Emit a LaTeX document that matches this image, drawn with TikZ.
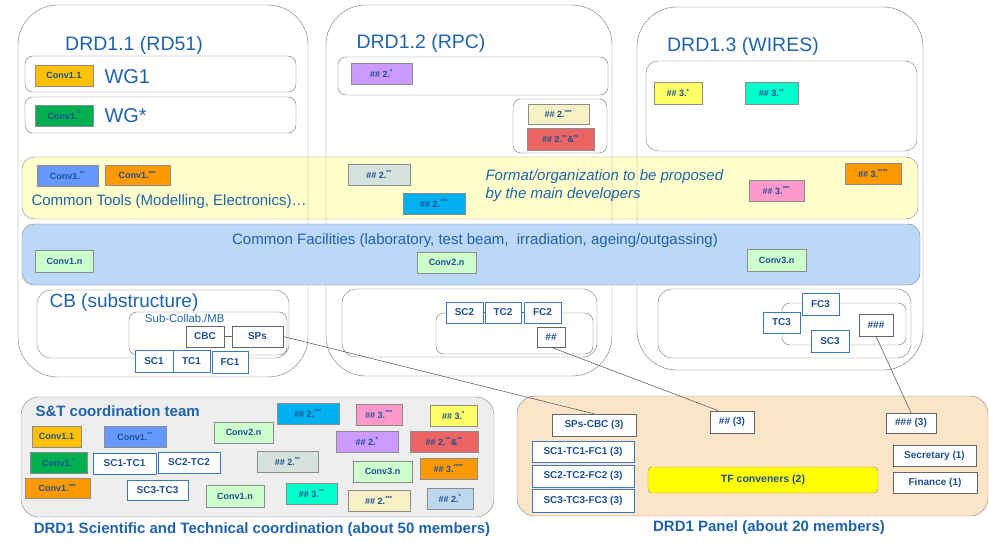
\documentclass[tikz,border=0pt]{standalone}
\usepackage{fontspec}
\setmainfont{Liberation Sans}
\usetikzlibrary{positioning}

\definecolor{drdblue}{RGB}{31,100,170}
\definecolor{chipblue}{RGB}{30,80,145}
\definecolor{unitblue}{RGB}{60,120,190}
\definecolor{bandyellow}{RGB}{255,255,204}
\definecolor{bandblue}{RGB}{187,216,247}
\definecolor{teamgray}{RGB}{238,238,238}
\definecolor{panelpeach}{RGB}{251,229,200}
\definecolor{cgold}{RGB}{255,192,0}
\definecolor{cgreen}{RGB}{0,176,80}
\definecolor{cblue}{RGB}{102,153,255}
\definecolor{corange}{RGB}{255,153,0}
\definecolor{cpurple}{RGB}{204,153,255}
\definecolor{ccream}{RGB}{247,240,196}
\definecolor{cred}{RGB}{235,100,100}
\definecolor{cyellow}{RGB}{255,255,102}
\definecolor{caqua}{RGB}{0,255,204}
\definecolor{csage}{RGB}{214,227,220}
\definecolor{ccyan}{RGB}{0,176,240}
\definecolor{cpink}{RGB}{255,153,204}
\definecolor{cmint}{RGB}{204,255,204}
\definecolor{csky}{RGB}{189,215,238}
\definecolor{tfyellow}{RGB}{255,255,0}

\begin{document}
\begin{tikzpicture}[x=1pt, y=-1pt,
    wh/.style 2 args={minimum width=#1pt, minimum height=#2pt},
    chip/.style={draw=black!45, inner sep=0pt, text=chipblue, font=\bfseries\fontsize{9}{10}\selectfont},
    unit/.style={draw=unitblue, fill=white, inner sep=0pt, text=chipblue, font=\bfseries\fontsize{10}{11}\selectfont},
    seat/.style={draw=black!60, fill=white, inner sep=0pt, text=chipblue, font=\bfseries\fontsize{10}{11}\selectfont},
    frame/.style={draw=black!55, rounded corners=8pt},
    heading/.style={text=drdblue, font=\fontsize{19.5}{22}\selectfont},
    bandtext/.style={text=drdblue, font=\fontsize{15}{18}\selectfont},
    caption/.style={text=drdblue, font=\bfseries\fontsize{15}{18}\selectfont},
    link/.style={draw=black!70, line width=0.5pt}]
    \useasboundingbox (0,0) rectangle (989,543);

    % Common tools band (under the columns)
    \draw[draw=black!50, fill=bandyellow, rounded corners=12pt] (22,157) rectangle (918,219);

    % The three columns
    \draw[draw=black!55, rounded corners=40pt] (18,5) rectangle (308,377);
    \draw[draw=black!55, rounded corners=40pt] (326,5) rectangle (612,376);
    \draw[draw=black!55, rounded corners=40pt] (637,7) rectangle (923,370);
    \node[heading] (t1) at (134,45) {DRD1.1 (RD51)};
    \node[heading] (t2) at (421,43) {DRD1.2 (RPC)};
    \node[heading] (t3) at (743,46) {DRD1.3 (WIRES)};

    % Common facilities band
    \draw[draw=black!50, fill=bandblue, rounded corners=12pt] (22,224) rectangle (920,285);

    % DRD1.1 working groups
    \draw[frame] (25,56) rectangle (296,92);
    \draw[frame] (25,97) rectangle (296,133);
    \node[chip, fill=cgold, wh={58}{21}] (c11) at (64,75.5) {Conv1.1};
    \node[chip, fill=cgreen, wh={58}{21}] (c1s) at (64,115.5) {Conv1.\textsuperscript{*}};
    \node[heading, anchor=west, font=\fontsize{20}{22}\selectfont] (wg1) at (101,77) {WG1};
    \node[heading, anchor=west, font=\fontsize{20}{22}\selectfont] (wgs) at (101,116) {WG*};

    % DRD1.2 groups
    \draw[frame] (338,57) rectangle (608,95);
    \draw[frame] (513,99) rectangle (607,153);
    \node[chip, fill=cpurple, wh={61}{21}] (r21) at (381.5,73.5) {\#\# 2.\textsuperscript{*}};
    \node[chip, fill=ccream, wh={61}{20}] (r2c) at (558.5,114) {\#\# 2.\textsuperscript{***}};
    \node[chip, fill=cred, wh={67}{22}] (r2r) at (560.5,139) {\#\# 2.\textsuperscript{**}\&\textsuperscript{**}};

    % DRD1.3 groups
    \draw[frame, rounded corners=12pt] (646,61) rectangle (917,151);
    \node[chip, fill=cyellow, wh={48}{22}] (w31) at (678,93) {\#\# 3.\textsuperscript{*}};
    \node[chip, fill=caqua, wh={53}{22}] (w32) at (771.5,93) {\#\# 3.\textsuperscript{**}};

    % Common tools content
    \node[chip, fill=cblue, wh={61}{21}] (t12) at (67.5,175.5) {Conv1.\textsuperscript{**}};
    \node[chip, fill=corange, wh={65}{20}] (t13) at (137.5,175) {Conv1.\textsuperscript{***}};
    \node[chip, fill=csage, wh={62}{21}] (t22) at (379,174.5) {\#\# 2.\textsuperscript{**}};
    \node[chip, fill=ccyan, wh={62}{21}] (t23) at (434,203.5) {\#\# 2.\textsuperscript{***}};
    \node[chip, fill=cpink, wh={55}{21}] (t33) at (776.5,190.5) {\#\# 3.\textsuperscript{***}};
    \node[chip, fill=corange, wh={56}{21}] (t34) at (873,173.5) {\#\# 3.\textsuperscript{****}};
    \node[bandtext, anchor=west] (tools) at (28,202) {Common Tools (Modelling, Electronics)\dots};
    \node[bandtext, anchor=west, align=left, font=\itshape\fontsize{15}{18}\selectfont] (fmt) at (482,186)
        {Format/organization to be proposed\\by the main developers};

    % Common facilities content
    \node[bandtext] (fac) at (475,241) {Common Facilities (laboratory, test beam,\ \ irradiation, ageing/outgassing)};
    \node[chip, fill=cmint, wh={58}{22}] (f1) at (64.5,261) {Conv1.n};
    \node[chip, fill=cmint, wh={59}{21}] (f2) at (446.5,262.5) {Conv2.n};
    \node[chip, fill=cmint, wh={59}{22}] (f3) at (776.5,260) {Conv3.n};

    % CB of DRD1.1
    \draw[frame, rounded corners=14pt] (37,290) rectangle (289,358);
    \node[heading, anchor=west, font=\fontsize{19}{22}\selectfont] (cb) at (46,303) {CB (substructure)};
    \draw[frame] (129,312) rectangle (287,355);
    \node[text=drdblue, anchor=west, font=\fontsize{11.3}{12}\selectfont, inner sep=0pt] (sub) at (145,318) {Sub-Collab./MB};
    \node[seat, wh={38}{21}] (cbc) at (205,336.5) {CBC};
    \node[seat, wh={51}{21}] (sps) at (257.5,336.5) {SPs};
    \draw[black!60] (cbc) -- (sps);
    \node[unit, wh={38}{22}] (sc1) at (154,361) {SC1};
    \node[unit, wh={37}{22}] (tc1) at (191.5,361) {TC1};
    \node[unit, wh={36}{22}] (fc1) at (230,362) {FC1};

    % CB of DRD1.2
    \draw[frame, rounded corners=14pt] (342,289) rectangle (597,357);
    \draw[frame] (436,313) rectangle (593,354);
    \node[unit, wh={37}{21}] (sc2) at (464.5,312.5) {SC2};
    \node[unit, wh={36}{21}] (tc2) at (503,312.5) {TC2};
    \node[unit, wh={37}{21}] (fc2) at (542.5,312.5) {FC2};
    \draw[black!60] (sc2) -- (tc2) (tc2) -- (fc2);
    \node[seat, wh={28}{20}] (hh) at (551,337) {\#\#};

    % CB of DRD1.3
    \draw[frame, rounded corners=14pt] (658,289) rectangle (911,358);
    \draw[frame] (782,303) rectangle (906,345);
    \node[unit, wh={37}{22}] (fc3) at (820.5,304) {FC3};
    \node[unit, wh={37}{21}] (tc3) at (781.5,322.5) {TC3};
    \node[unit, wh={38}{22}] (sc3) at (830,341) {SC3};
    \node[seat, wh={34}{22}] (hhh) at (876,325) {\#\#\#};

    % S&T coordination team
    \draw[draw=black!50, fill=teamgray, rounded corners=18pt] (21,397) rectangle (494,517);
    \node[caption, anchor=west] (team) at (32,411) {S\&T coordination team};
    \node[chip, fill=ccyan, wh={62}{21}] (s23) at (308,413.5) {\#\# 2.\textsuperscript{***}};
    \node[chip, fill=cpink, wh={46}{21}] (s33) at (379,414.5) {\#\# 3.\textsuperscript{***}};
    \node[chip, fill=cyellow, wh={47}{21}] (s31) at (453.5,415.5) {\#\# 3.\textsuperscript{*}};
    \node[chip, fill=cgold, wh={49}{21}] (s11) at (56.5,436.5) {Conv1.1};
    \node[chip, fill=cblue, wh={62}{21}] (s12) at (135,436.5) {Conv1.\textsuperscript{**}};
    \node[chip, fill=cmint, wh={59}{21}] (s2n) at (243.5,432.5) {Conv2.n};
    \node[chip, fill=cpurple, wh={62}{21}] (s21) at (367,441.5) {\#\# 2.\textsuperscript{*}};
    \node[chip, fill=cred, wh={68}{21}] (s2r) at (444,441.5) {\#\# 2.\textsuperscript{**}\&\textsuperscript{**}};
    \node[chip, fill=cgreen, wh={57}{21}] (s1s) at (58.5,462.5) {Conv1.\textsuperscript{*}};
    \node[unit, wh={63}{21}] (st1) at (124.5,463.5) {SC1-TC1};
    \node[unit, wh={62}{21}] (st2) at (189,462.5) {SC2-TC2};
    \node[chip, fill=csage, wh={61}{21}] (s22) at (287.5,461.5) {\#\# 2.\textsuperscript{**}};
    \node[chip, fill=cmint, wh={59}{21}] (s3n) at (382.5,471.5) {Conv3.n};
    \node[chip, fill=corange, wh={57}{21}] (s34) at (448.5,468.5) {\#\# 3.\textsuperscript{****}};
    \node[chip, fill=corange, wh={65}{20}] (s13) at (57.5,488) {Conv1.\textsuperscript{***}};
    \node[unit, wh={61}{20}] (st3) at (157.5,490) {SC3-TC3};
    \node[chip, fill=cmint, wh={58}{22}] (s1n) at (235,496) {Conv1.n};
    \node[chip, fill=caqua, wh={51}{21}] (s32) at (311.5,493.5) {\#\# 3.\textsuperscript{**}};
    \node[chip, fill=ccream, wh={62}{21}] (s2c) at (379,500.5) {\#\# 2.\textsuperscript{***}};
    \node[chip, fill=csky, wh={46}{21}] (s2s) at (450,498.5) {\#\# 2.\textsuperscript{*}};
    \node[caption] (teamcap) at (262,530) {DRD1 Scientific and Technical coordination (about 50 members)};

    % DRD1 panel
    \draw[draw=black!50, fill=panelpeach, rounded corners=18pt] (517,396) rectangle (988,516);
    \node[seat, wh={84}{22}] (p1) at (594,425) {SPs-CBC (3)};
    \node[seat, wh={44}{22}] (p2) at (732,422) {\#\# (3)};
    \node[seat, wh={50}{20}] (p3) at (911,423) {\#\#\# (3)};
    \node[unit, wh={102}{21}] (pa) at (583,451.5) {SC1-TC1-FC1 (3)};
    \node[unit, wh={102}{22}] (pb) at (583,476) {SC2-TC2-FC2 (3)};
    \node[unit, wh={102}{23}] (pc) at (583,500.5) {SC3-TC3-FC3 (3)};
    \node[chip, fill=tfyellow, rounded corners=4pt, wh={230}{26}, font=\bfseries\fontsize{10.5}{12}\selectfont] (tf) at (763,480) {TF conveners (2)};
    \node[seat, wh={83}{21}] (sec) at (934.5,455.5) {Secretary (1)};
    \node[seat, wh={84}{21}] (fin) at (935,482.5) {Finance (1)};
    \node[caption] (panelcap) at (769,528) {DRD1 Panel (about 20 members)};

    % Links from the columns to the panel
    \draw[link] (sps.east) -- (p1.north);
    \draw[link] (hh.south) -- (p2.140);
    \draw[link] (hhh.south) -- (p3.north);
\end{tikzpicture}
\end{document}
